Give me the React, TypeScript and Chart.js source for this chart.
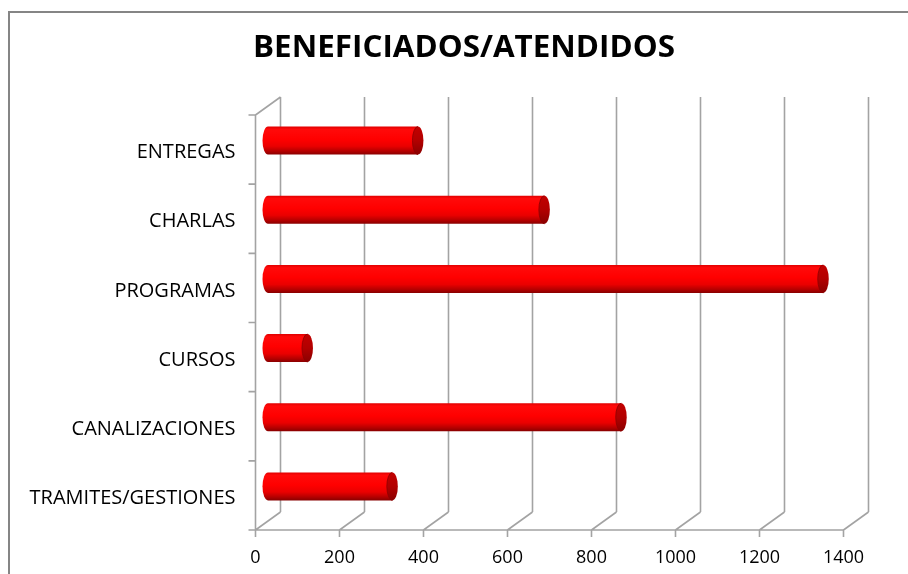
import React, { useEffect, useRef } from 'react';
import { Chart, registerables } from 'chart.js';

Chart.register(...registerables);

const titleText = 'BENEFICIADOS/ATENDIDOS';
const categories = ['ENTREGAS', 'CHARLAS', 'PROGRAMAS', 'CURSOS', 'CANALIZACIONES', 'TRAMITES/GESTIONES'];
const values = [357, 658, 1322, 94, 841, 296];
const xTickValues = [0, 200, 400, 600, 800, 1000, 1200, 1400];

const DX = 25;
const DY = -18;
const GRID = '#a3a3a3';

const threeD = {
  id: 'threeD',
  beforeDraw(chart: any) {
    const ctx = chart.ctx;
    ctx.save();
    ctx.fillStyle = '#ffffff';
    ctx.fillRect(0, 0, chart.width, chart.height);
    ctx.strokeStyle = '#858585';
    ctx.lineWidth = 2;
    ctx.strokeRect(9, 12, chart.width + 20, chart.height + 20);
    ctx.fillStyle = '#000000';
    ctx.font = 'bold 30px "Open Sans"';
    ctx.textAlign = 'center';
    ctx.textBaseline = 'alphabetic';
    const w = ctx.measureText(titleText).width;
    const s = 422 / w;
    ctx.translate(464, 57);
    ctx.scale(s, 1);
    ctx.fillText(titleText, 0, 0);
    ctx.restore();
  },
  beforeDatasetsDraw(chart: any) {
    const ctx = chart.ctx;
    const xs = chart.scales.x;
    const ca = chart.chartArea;
    ctx.save();
    ctx.strokeStyle = GRID;
    ctx.lineWidth = 1.6;
    ctx.beginPath();
    xTickValues.forEach((v) => {
      const fx = xs.getPixelForValue(v);
      ctx.moveTo(fx + DX, ca.top + DY);
      ctx.lineTo(fx + DX, ca.bottom + DY);
      ctx.moveTo(fx, ca.bottom);
      ctx.lineTo(fx + DX, ca.bottom + DY);
      ctx.moveTo(fx, ca.bottom);
      ctx.lineTo(fx, ca.bottom + 7);
    });
    ctx.moveTo(ca.left, ca.bottom);
    ctx.lineTo(ca.right, ca.bottom);
    ctx.moveTo(ca.left, ca.top);
    ctx.lineTo(ca.left, ca.bottom);
    ctx.moveTo(ca.left, ca.top);
    ctx.lineTo(ca.left + DX, ca.top + DY);
    const n = categories.length;
    for (let i = 0; i <= n; i++) {
      const y = ca.top + (i * (ca.bottom - ca.top)) / n;
      ctx.moveTo(ca.left - 7, y);
      ctx.lineTo(ca.left, y);
    }
    ctx.stroke();
    ctx.restore();
  },
  afterDatasetsDraw(chart: any) {
    const ctx = chart.ctx;
    const meta = chart.getDatasetMeta(0);
    ctx.save();
    meta.data.forEach((el: any) => {
      const p = el.getProps(['x', 'y', 'base', 'height'], true);
      const x0 = p.base + DX / 2;
      const x1 = p.x + DX / 2;
      const cy = p.y + DY / 2;
      const r = p.height / 2;
      const rx = 5.5;
      const g = ctx.createLinearGradient(0, cy - r, 0, cy + r);
      g.addColorStop(0, '#e00000');
      g.addColorStop(0.1, '#ff0a0a');
      g.addColorStop(0.45, '#ff0000');
      g.addColorStop(0.7, '#ea0000');
      g.addColorStop(0.88, '#b40000');
      g.addColorStop(1, '#880000');
      ctx.fillStyle = g;
      ctx.beginPath();
      ctx.moveTo(x1, cy - r);
      ctx.lineTo(x0, cy - r);
      ctx.ellipse(x0, cy, rx, r, 0, -Math.PI / 2, Math.PI / 2, true);
      ctx.lineTo(x1, cy + r);
      ctx.closePath();
      ctx.fill();
      const g2 = ctx.createLinearGradient(0, cy - r, 0, cy + r);
      g2.addColorStop(0, '#c20000');
      g2.addColorStop(0.5, '#b20000');
      g2.addColorStop(1, '#8a0000');
      ctx.fillStyle = g2;
      ctx.beginPath();
      ctx.ellipse(x1, cy, rx, r, 0, 0, Math.PI * 2);
      ctx.fill();
      ctx.strokeStyle = 'rgba(140,0,0,0.8)';
      ctx.lineWidth = 1;
      ctx.beginPath();
      ctx.ellipse(x1, cy, rx, r, 0, Math.PI / 2, -Math.PI / 2, false);
      ctx.stroke();
    });
    ctx.restore();
  },
};

export default function App() {
  const ref = useRef<HTMLCanvasElement>(null);
  useEffect(() => {
    document.body.style.margin = '0';
    const canvas = ref.current!;
    const chart = new Chart(canvas, {
      type: 'bar',
      data: {
        labels: categories,
        datasets: [
          {
            data: values,
            backgroundColor: 'rgba(0,0,0,0)',
            borderWidth: 0,
            barThickness: 28,
          },
        ],
      },
      options: {
        indexAxis: 'y',
        animation: false,
        responsive: false,
        events: [],
        layout: { padding: { top: 115, right: 64.5, left: 0, bottom: 0 } },
        plugins: {
          legend: { display: false },
          title: { display: false },
          tooltip: { enabled: false },
        },
        scales: {
          x: {
            type: 'linear',
            min: 0,
            max: 1400,
            afterBuildTicks: (scale: any) => {
              scale.ticks = xTickValues.map((v) => ({ value: v }));
            },
            afterFit: (scale: any) => {
              scale.height = 44;
            },
            grid: { display: false, drawTicks: false },
            border: { display: false },
            ticks: {
              padding: 17,
              color: '#000000',
              font: { family: '"Open Sans"', size: 18 },
              maxRotation: 0,
              callback: (v: any) => String(v),
            },
          },
          y: {
            type: 'category',
            afterFit: (scale: any) => {
              scale.width = 255.5;
            },
            grid: { display: false, drawTicks: false },
            border: { display: false },
            ticks: {
              padding: 20,
              labelOffset: 3,
              color: '#000000',
              font: { family: '"Open Sans"', size: 20 },
            },
          },
        },
      },
      plugins: [threeD],
    });
    return () => chart.destroy();
  }, []);
  return <canvas ref={ref} width={908} height={574} style={{ display: 'block' }} />;
}
